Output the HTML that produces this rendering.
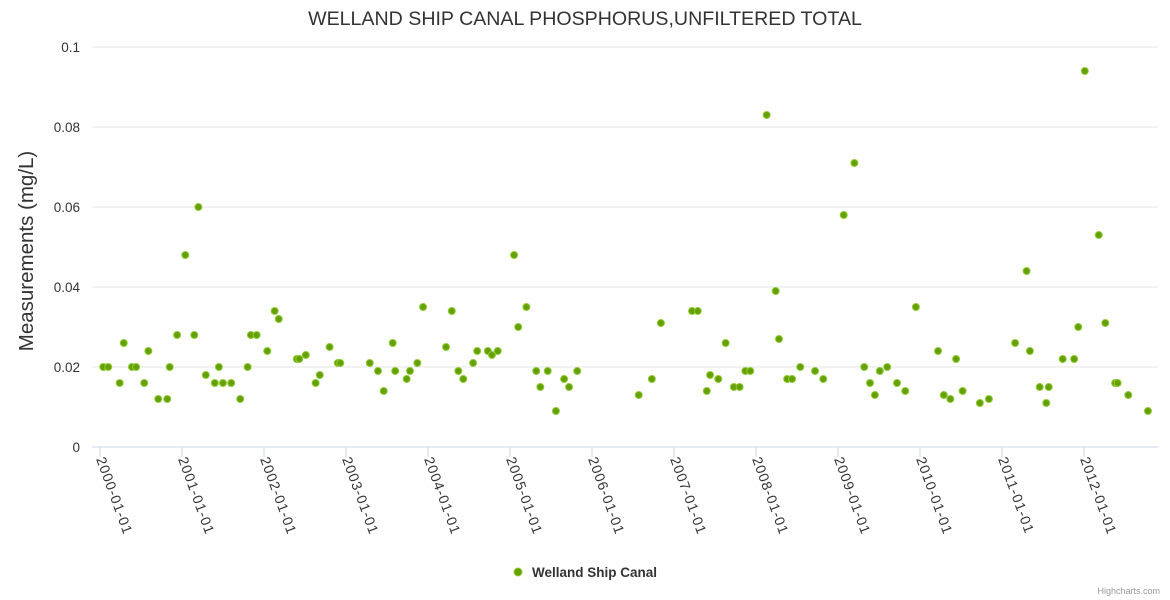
<!DOCTYPE html>
<html><head><meta charset="utf-8"><style>
html,body{margin:0;padding:0;background:#fff;}
svg{font-family:"Liberation Sans",sans-serif;display:block;}
</style></head><body>
<svg id="chart" width="1170" height="600">
<text x="585" y="25" text-anchor="middle" font-size="19.6" fill="#333">WELLAND SHIP CANAL PHOSPHORUS,UNFILTERED TOTAL</text>
<text transform="translate(33,251) rotate(-90)" text-anchor="middle" font-size="20.5" fill="#333">Measurements (mg/L)</text>
<g id="grid"></g><g id="xaxis"></g><g id="yaxis"></g><g id="points"></g>
<g>
<circle cx="518" cy="572" r="4" fill="#66a000" stroke="#8fcc3a" stroke-width="1"/>
<text x="532" y="577" font-size="13.5" font-weight="bold" fill="#333">Welland Ship Canal</text>
</g>
<text x="1160" y="594" text-anchor="end" font-size="9" fill="#999">Highcharts.com</text>
</svg>
<script>
const dates=[2000.04,2000.10,2000.24,2000.29,2000.39,2000.44,2000.54,2000.59,2000.71,2000.82,2000.85,2000.94,2001.04,2001.15,2001.20,2001.29,2001.40,2001.45,2001.50,2001.60,2001.71,2001.80,2001.84,2001.91,2002.04,2002.13,2002.18,2002.40,2002.43,2002.51,2002.63,2002.68,2002.80,2002.90,2002.93,2003.29,2003.39,2003.46,2003.57,2003.60,2003.74,2003.78,2003.87,2003.94,2004.22,2004.29,2004.37,2004.43,2004.55,2004.60,2004.73,2004.78,2004.85,2005.05,2005.10,2005.20,2005.32,2005.37,2005.46,2005.56,2005.66,2005.72,2005.82,2006.57,2006.73,2006.84,2007.22,2007.29,2007.40,2007.44,2007.54,2007.63,2007.73,2007.80,2007.87,2007.93,2008.13,2008.24,2008.28,2008.38,2008.44,2008.54,2008.72,2008.82,2009.07,2009.20,2009.32,2009.39,2009.45,2009.51,2009.60,2009.72,2009.82,2009.95,2010.22,2010.29,2010.37,2010.44,2010.52,2010.73,2010.84,2011.16,2011.30,2011.34,2011.46,2011.54,2011.57,2011.74,2011.88,2011.93,2012.01,2012.18,2012.26,2012.38,2012.41,2012.54,2012.78];
const values=[0.02,0.02,0.016,0.026,0.02,0.02,0.016,0.024,0.012,0.012,0.02,0.028,0.048,0.028,0.06,0.018,0.016,0.02,0.016,0.016,0.012,0.02,0.028,0.028,0.024,0.034,0.032,0.022,0.022,0.023,0.016,0.018,0.025,0.021,0.021,0.021,0.019,0.014,0.026,0.019,0.017,0.019,0.021,0.035,0.025,0.034,0.019,0.017,0.021,0.024,0.024,0.023,0.024,0.048,0.03,0.035,0.019,0.015,0.019,0.009,0.017,0.015,0.019,0.013,0.017,0.031,0.034,0.034,0.014,0.018,0.017,0.026,0.015,0.015,0.019,0.019,0.083,0.039,0.027,0.017,0.017,0.02,0.019,0.017,0.058,0.071,0.02,0.016,0.013,0.019,0.02,0.016,0.014,0.035,0.024,0.013,0.012,0.022,0.014,0.011,0.012,0.026,0.044,0.024,0.015,0.011,0.015,0.022,0.022,0.03,0.094,0.053,0.031,0.016,0.016,0.013,0.009];
const yTicks=[0,0.02,0.04,0.06,0.08,0.1];
const yTickLabels=["0","0.02","0.04","0.06","0.08","0.1"];
const xTicks=[2000,2001,2002,2003,2004,2005,2006,2007,2008,2009,2010,2011,2012];
const xTickLabels=["2000-01-01","2001-01-01","2002-01-01","2003-01-01","2004-01-01","2005-01-01","2006-01-01","2007-01-01","2008-01-01","2009-01-01","2010-01-01","2011-01-01","2012-01-01"];

const NS="http://www.w3.org/2000/svg";
const L=92,R=1158,X0=100,PXY=82,Y0=447,PXV=4000;
const xs=d=>X0+(d-2000)*PXY;
const ys=v=>Y0-v*PXV;
function mk(tag,attrs,parent){const e=document.createElementNS(NS,tag);for(const k in attrs)e.setAttribute(k,attrs[k]);document.getElementById(parent).appendChild(e);return e;}
yTicks.forEach((t,i)=>{
  const g=mk('line',{x1:L,x2:R,y1:ys(t),y2:ys(t),stroke:t===0?'#ccd6eb':'#e6e6e6','stroke-width':1},'grid');
  
  
  const tx=mk('text',{x:80,y:ys(t)+5,'text-anchor':'end','font-size':13.5,fill:'#333'},'yaxis');
  tx.textContent=yTickLabels[i];
  
  
});
xTicks.forEach((t,i)=>{
  const x=xs(t);
  const tk=mk('line',{x1:x,x2:x,y1:Y0,y2:Y0+10,stroke:'#ccd6eb'},'xaxis');
  
  
  const tx=mk('text',{transform:`translate(${x-4},${Y0+12}) rotate(70)`,'font-size':14,'letter-spacing':1,fill:'#333'},'xaxis');
  tx.textContent=xTickLabels[i];
  
  
});
dates.forEach((d,i)=>{
  const c=mk('circle',{cx:xs(d),cy:ys(values[i]),r:3.5,fill:'#66a000',stroke:'#8fcc3a','stroke-width':1},'points');
  
  
});
</script>
</body></html>
